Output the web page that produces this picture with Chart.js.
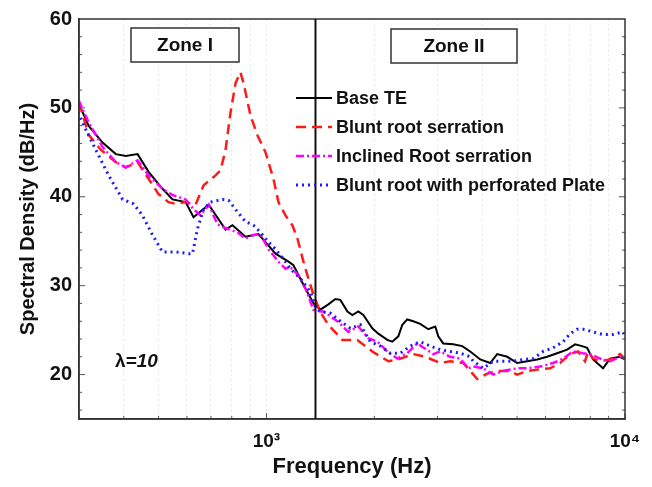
<!DOCTYPE html>
<html>
<head>
<meta charset="utf-8">
<script src="https://cdn.jsdelivr.net/npm/chart.js@4.4.1/dist/chart.umd.min.js"></script>
<style>
  html, body { margin: 0; padding: 0; background: #fff; }
  #wrap { width: 652px; height: 487px; }
</style>
</head>
<body>
<div id="wrap"><canvas id="spectrum" width="652" height="487"></canvas></div>
<script>
// Spectral density vs frequency
const baseFreq = [301, 319, 349, 380, 405, 437, 469, 513, 547, 595, 626, 690, 769, 804, 874, 950, 994, 1060, 1152, 1189, 1268, 1352,
  1414, 1488, 1557, 1607, 1682, 1736, 1804, 1863, 1973, 2051, 2173, 2244, 2332, 2393, 2470, 2567, 2685, 2827, 2957, 3014, 3112, 3318,
  3516, 3701, 3947, 4207, 4401, 4693, 5004, 5333, 5687, 6064, 6466, 6894, 7258, 7590, 7837, 8145, 8685, 9083, 9685, 10000];
const baseDb = [50.3, 48.0, 46.1, 44.8, 44.6, 44.8, 42.8, 40.9, 39.7, 39.4, 37.7, 39.1, 36.3, 36.8, 35.5, 35.8, 34.9, 33.6, 32.7, 32.3, 30.1, 28.0,
  27.3, 27.9, 28.5, 28.4, 27.1, 26.7, 27.1, 26.7, 25.2, 24.6, 23.9, 23.7, 24.3, 25.6, 26.2, 26.0, 25.7, 25.1, 25.4, 24.3, 23.5, 23.4,
  23.2, 22.6, 21.7, 21.3, 22.3, 22.0, 21.3, 21.5, 21.7, 22.0, 22.4, 22.8, 23.4, 23.2, 23.0, 21.7, 20.7, 21.8, 22.0, 21.7];

const bluntFreq = [300, 319, 345, 380, 405, 437, 466, 500, 533, 558, 595, 634, 668, 721, 745, 769, 794, 820, 846, 863, 903, 944, 994,
  1046, 1080, 1130, 1181, 1220, 1268, 1309, 1352, 1414, 1488, 1628, 1792, 1973, 2187, 2332, 2567, 2773, 3053, 3253, 3538, 3871, 4128,
  4401, 4784, 5004, 5333, 5798, 6182, 6592, 7029, 7399, 7737, 7888, 8145, 8518, 9083, 9685, 10000];
const bluntDb = [50.6, 47.0, 45.3, 43.9, 43.3, 43.9, 42.2, 40.3, 39.4, 39.2, 39.4, 39.1, 41.3, 42.4, 43.0, 45.3, 49.5, 52.8, 54.0, 52.8, 49.1, 46.9, 45.0,
  42.0, 39.4, 37.9, 36.8, 35.3, 32.7, 30.8, 29.0, 27.0, 25.6, 23.9, 23.9, 22.6, 21.5, 21.7, 22.3, 22.0, 21.3, 21.5, 21.3, 19.5, 20.1,
  20.4, 20.4, 20.0, 20.4, 20.6, 20.7, 21.3, 22.3, 22.6, 21.5, 22.6, 21.8, 21.5, 21.7, 22.3, 21.8];

const inclinedFreq = [299, 319, 349, 380, 405, 437, 469, 513, 547, 595, 626, 655, 690, 730, 779, 830, 874, 920, 962, 1013, 1080, 1130,
  1166, 1220, 1284, 1352, 1414, 1441, 1577, 1692, 1804, 1923, 2038, 2173, 2317, 2470, 2634, 2773, 2919, 3053, 3253, 3470, 3654, 3773,
  4024, 4290, 4574, 5004, 5333, 5798, 6302, 6720, 7166, 7638, 7989, 8518, 9083, 9685, 10000];
const inclinedDb = [50.9, 48.4, 45.6, 43.9, 43.3, 44.1, 42.4, 40.9, 40.2, 39.7, 38.6, 37.9, 39.1, 36.9, 36.4, 36.0, 35.3, 35.7, 35.8, 34.1, 32.7, 31.9,
  32.1, 31.3, 29.7, 27.3, 27.1, 27.1, 26.0, 24.8, 25.4, 24.1, 23.7, 22.6, 21.8, 22.4, 23.5, 22.9, 22.3, 22.6, 22.0, 21.8, 20.7, 20.9,
  20.7, 20.0, 20.4, 20.7, 20.7, 20.9, 21.3, 21.8, 22.6, 22.4, 22.3, 21.8, 21.5, 22.0, 21.8];

const plateFreq = [298, 313, 334, 363, 397, 426, 451, 481, 513, 558, 606, 622, 642, 668, 698, 754, 784, 830, 874, 920, 962, 1013, 1060,
  1115, 1166, 1244, 1326, 1369, 1414, 1508, 1607, 1714, 1827, 1948, 2078, 2215, 2362, 2518, 2685, 2863, 3053, 3253, 3470, 3701, 3773,
  4024, 4290, 4574, 4876, 5200, 5542, 5911, 6302, 6720, 7029, 7351, 7638, 8145, 8685, 9260, 9872, 10000];
const plateDb = [49.5, 47.6, 45.3, 42.4, 39.7, 39.2, 37.9, 35.7, 33.8, 33.8, 33.6, 33.6, 36.4, 38.6, 39.4, 39.7, 39.6, 38.3, 37.2, 36.8, 36.0, 34.9, 34.1,
  33.0, 31.9, 30.8, 29.3, 27.6, 27.1, 26.9, 26.0, 25.2, 25.6, 23.7, 23.2, 22.4, 22.4, 23.2, 23.7, 23.2, 22.8, 22.6, 22.4, 22.0, 21.5,
  20.7, 21.5, 21.5, 21.5, 21.7, 21.8, 22.6, 23.0, 23.7, 24.6, 25.1, 25.1, 24.8, 24.5, 24.5, 24.8, 24.3];

const seriesLabels = ['Base TE', 'Blunt root serration', 'Inclined Root serration', 'Blunt root with perforated Plate'];
const xTickValues = [300, 400, 500, 600, 700, 800, 900, 1000, 2000, 3000, 4000, 5000, 6000, 7000, 8000, 9000, 10000];
const xTickLabels = { 1000: '10\u00B3', 10000: '10\u2074' };
const yTickValues = [20, 30, 40, 50, 60];
const zoneBoundaryHz = 1370;
const zoneNames = ['Zone I', 'Zone II'];
const lambdaText = '=10';

const FONT = "'Liberation Sans', Arial, sans-serif";

function zip(xs, ys) {
  return xs.map((x, i) => ({ x: x, y: ys[i] }));
}

// Frame, zone line, zone boxes, legend and lambda label
const decorations = {
  id: 'decorations',
  afterDatasetsDraw(chart) {
    const { ctx, chartArea: a, scales } = chart;
    ctx.save();

    // minor ticks on y (both sides), every 2 dB
    ctx.strokeStyle = '#555';
    ctx.lineWidth = 1;
    for (let v = 16; v < 60; v += 2) {
      const y = scales.y.getPixelForValue(v);
      const len = v % 10 === 0 ? 6 : 3;
      ctx.beginPath();
      ctx.moveTo(a.left, y); ctx.lineTo(a.left + len, y);
      ctx.moveTo(a.right, y); ctx.lineTo(a.right - len, y);
      ctx.stroke();
    }
    // small ticks on x
    xTickValues.forEach(v => {
      const x = scales.x.getPixelForValue(v);
      const len = xTickLabels[v] ? 6 : 3;
      ctx.beginPath();
      ctx.moveTo(x, a.bottom); ctx.lineTo(x, a.bottom - len);
      ctx.stroke();
    });

    // box around the axes
    ctx.strokeStyle = '#333';
    ctx.lineWidth = 1.5;
    ctx.strokeRect(a.left, a.top, a.right - a.left, a.bottom - a.top);

    // zone boundary
    const xb = scales.x.getPixelForValue(zoneBoundaryHz);
    ctx.strokeStyle = '#111';
    ctx.lineWidth = 2;
    ctx.beginPath();
    ctx.moveTo(xb, a.top); ctx.lineTo(xb, a.bottom);
    ctx.stroke();

    // zone boxes
    ctx.font = 'bold 19px ' + FONT;
    ctx.textAlign = 'center';
    ctx.textBaseline = 'middle';
    const boxes = [
      { text: zoneNames[0], x: 131, y: 28, w: 108, h: 34 },
      { text: zoneNames[1], x: 391, y: 29, w: 126, h: 34 }
    ];
    boxes.forEach(b => {
      ctx.fillStyle = '#fff';
      ctx.fillRect(b.x, b.y, b.w, b.h);
      ctx.strokeStyle = '#333';
      ctx.lineWidth = 1.5;
      ctx.strokeRect(b.x, b.y, b.w, b.h);
      ctx.fillStyle = '#111';
      ctx.fillText(b.text, b.x + b.w / 2, b.y + b.h / 2 + 1);
    });

    // legend
    ctx.textAlign = 'left';
    ctx.font = 'bold 18px ' + FONT;
    chart.data.datasets.forEach((ds, i) => {
      const y = 98 + i * 29;
      ctx.strokeStyle = ds.borderColor;
      ctx.lineWidth = ds.borderWidth;
      ctx.setLineDash(ds.borderDash || []);
      ctx.beginPath();
      ctx.moveTo(296, y); ctx.lineTo(332, y);
      ctx.stroke();
      ctx.setLineDash([]);
      ctx.fillStyle = '#111';
      ctx.fillText(ds.label, 336, y + 1);
    });

    // lambda label
    ctx.font = 'bold 19px ' + FONT;
    ctx.fillStyle = '#111';
    ctx.fillText('\u03BB', 115, 362);
    const lw = ctx.measureText('\u03BB').width;
    ctx.font = 'italic bold 19px ' + FONT;
    ctx.fillText(lambdaText, 115 + lw, 362);

    ctx.restore();
  }
};

const ctx = document.getElementById('spectrum').getContext('2d');
new Chart(ctx, {
  type: 'line',
  data: {
    datasets: [
      { label: seriesLabels[0], data: zip(baseFreq, baseDb), borderColor: '#000000', borderWidth: 2, order: 3 },
      { label: seriesLabels[1], data: zip(bluntFreq, bluntDb), borderColor: '#ff1a1a', borderWidth: 2.5, borderDash: [10, 6], order: 2 },
      { label: seriesLabels[2], data: zip(inclinedFreq, inclinedDb), borderColor: '#ff00ff', borderWidth: 2.5, borderDash: [8, 3, 2, 3], order: 1 },
      { label: seriesLabels[3], data: zip(plateFreq, plateDb), borderColor: '#1a1aff', borderWidth: 3, borderDash: [2, 4], order: 0 }
    ]
  },
  options: {
    responsive: false,
    animation: false,
    devicePixelRatio: 1,
    layout: { padding: { top: 16, right: 27, left: 0, bottom: 0 } },
    elements: {
      point: { radius: 0 },
      line: { tension: 0, fill: false }
    },
    plugins: {
      legend: { display: false },
      tooltip: { enabled: false }
    },
    scales: {
      x: {
        type: 'logarithmic',
        min: 300,
        max: 10000,
        afterBuildTicks: scale => { scale.ticks = xTickValues.map(v => ({ value: v })); },
        afterFit: scale => { scale.height = 68; },
        grid: { color: 'rgba(0,0,0,0.09)', lineWidth: 1, drawTicks: false },
        border: { display: true, color: '#333', width: 1.5, dash: [2, 3] },
        ticks: {
          autoSkip: false,
          maxRotation: 0,
          padding: 11,
          color: '#111',
          font: { family: FONT, size: 19, weight: 'bold' },
          callback: v => xTickLabels[v] || ''
        },
        title: {
          display: true,
          text: 'Frequency (Hz)',
          color: '#111',
          font: { family: FONT, size: 22, weight: 'bold' },
          padding: { top: 0, bottom: 7 }
        }
      },
      y: {
        type: 'linear',
        min: 15,
        max: 60,
        afterBuildTicks: scale => { scale.ticks = yTickValues.map(v => ({ value: v })); },
        afterFit: scale => { scale.width = 79; },
        grid: { display: false, drawTicks: false },
        border: { display: true, color: '#333', width: 1.5 },
        ticks: {
          padding: 7,
          color: '#111',
          font: { family: FONT, size: 20, weight: 'bold' }
        },
        title: {
          display: true,
          text: 'Spectral Density (dB/Hz)',
          color: '#111',
          font: { family: FONT, size: 20, weight: 'bold' },
          padding: { top: 16, bottom: 0 }
        }
      }
    }
  },
  plugins: [decorations]
});
</script>
</body>
</html>
